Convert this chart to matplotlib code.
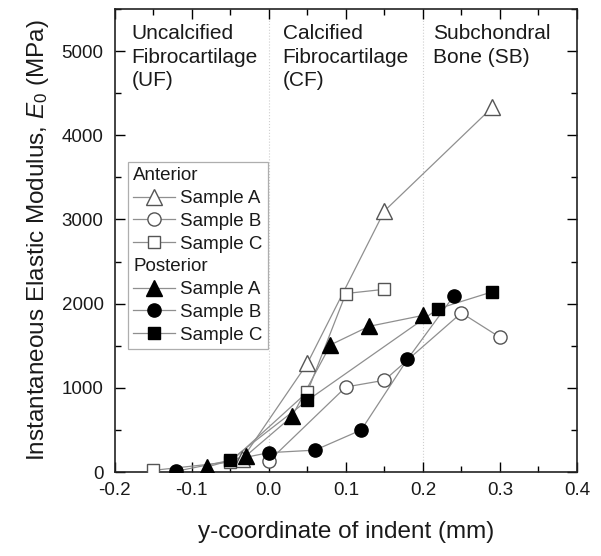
import numpy as np
import matplotlib
matplotlib.use("Agg")
import matplotlib.pyplot as plt
from matplotlib.lines import Line2D
from matplotlib.ticker import MultipleLocator, FormatStrFormatter

plt.rcParams['font.family'] = ['Liberation Sans', 'DejaVu Sans']
plt.rcParams['mathtext.fontset'] = 'custom'
plt.rcParams['mathtext.rm'] = 'Liberation Sans'
plt.rcParams['mathtext.it'] = 'Liberation Sans:italic'

# data (y-coordinate in mm, modulus in MPa)
ant_a_x = [-0.035, 0.05, 0.15, 0.29]
ant_a_y = [150, 1290, 3100, 4330]
ant_b_x = [0.0, 0.10, 0.15, 0.25, 0.30]
ant_b_y = [130, 1010, 1090, 1890, 1600]
ant_c_x = [-0.15, -0.05, 0.05, 0.10, 0.15]
ant_c_y = [20, 120, 950, 2120, 2170]
post_a_x = [-0.08, -0.03, 0.03, 0.08, 0.13, 0.20]
post_a_y = [60, 190, 660, 1510, 1730, 1860]
post_b_x = [-0.12, 0.0, 0.06, 0.12, 0.18, 0.24]
post_b_y = [10, 230, 260, 500, 1340, 2090]
post_c_x = [-0.05, 0.05, 0.22, 0.29]
post_c_y = [140, 850, 1940, 2140]

regions = ["Uncalcified\nFibrocartilage\n(UF)",
           "Calcified\nFibrocartilage\n(CF)",
           "Subchondral\nBone (SB)"]
region_x = [-0.178, 0.018, 0.213]
boundaries = [0.0, 0.2]

linecol = '#8f8f8f'
opencol = '#555555'
txtcol = '#1a1a1a'

fig = plt.figure(figsize=(6.01, 5.56), dpi=100)
ax = fig.add_axes([0.191, 0.151, 0.769, 0.833])

for b in boundaries:
    ax.axvline(b, color='#cfcfcf', lw=0.8, ls=':', zorder=1)

series = [
    (ant_a_x, ant_a_y, '^', 'white', opencol, 11),
    (ant_b_x, ant_b_y, 'o', 'white', opencol, 9.5),
    (ant_c_x, ant_c_y, 's', 'white', opencol, 9),
    (post_a_x, post_a_y, '^', 'black', 'black', 11),
    (post_b_x, post_b_y, 'o', 'black', 'black', 9.5),
    (post_c_x, post_c_y, 's', 'black', 'black', 9),
]
handles = []
for xs, ys, m, fc, ec, ms in series:
    ax.plot(xs, ys, color=linecol, lw=0.9, zorder=2)
    ax.plot(xs, ys, ls='none', marker=m, mfc=fc, mec=ec, ms=ms, mew=1.0, zorder=3)
    handles.append(Line2D([], [], color=linecol, lw=0.9, marker=m, mfc=fc, mec=ec, ms=ms, mew=1.0))

blank = Line2D([], [], ls='none')
leg_handles = [blank] + handles[:3] + [blank] + handles[3:]
leg_labels = ['Anterior', 'Sample A', 'Sample B', 'Sample C',
              'Posterior', 'Sample A', 'Sample B', 'Sample C']
leg = ax.legend(leg_handles, leg_labels, loc='upper left', bbox_to_anchor=(0.028, 0.67),
                borderaxespad=0, frameon=True, fancybox=False, edgecolor='#9a9a9a',
                fontsize=13.5, handlelength=2.2, handletextpad=0.3, labelspacing=0.3,
                borderpad=0.3, labelcolor=txtcol)
leg.get_frame().set_linewidth(0.9)
# header rows: drop the empty handle so the text starts at the left
for col in leg._legend_handle_box.get_children():
    for i, hp in enumerate(col.get_children()):
        if i in (0, 4):
            hp.get_children()[0].width = 0
            hp.sep = 0

for x, t in zip(region_x, regions):
    ax.text(x, 5320, t, ha='left', va='top', fontsize=15, color=txtcol, linespacing=1.3)

ax.set_xlim(-0.2, 0.4)
ax.set_ylim(0, 5500)
ax.xaxis.set_major_locator(MultipleLocator(0.1))
ax.xaxis.set_minor_locator(MultipleLocator(0.05))
ax.xaxis.set_major_formatter(FormatStrFormatter('%.1f'))
ax.yaxis.set_major_locator(MultipleLocator(1000))
ax.yaxis.set_minor_locator(MultipleLocator(500))
ax.tick_params(which='both', direction='in', top=True, right=True, width=1.0,
               labelsize=13.5, labelcolor=txtcol)
ax.tick_params(which='major', length=7)
ax.tick_params(which='minor', length=4)
ax.tick_params(axis='x', pad=7)
ax.tick_params(axis='y', pad=8)
for s in ax.spines.values():
    s.set_linewidth(1.2)
    s.set_color('#222222')

ax.set_xlabel('y-coordinate of indent (mm)', fontsize=17.5, color=txtcol, labelpad=16)
ax.set_ylabel(r'Instantaneous Elastic Modulus, $E_0$ (MPa)', fontsize=17.5, color=txtcol, labelpad=8)

fig.savefig('out.png', dpi=100)
